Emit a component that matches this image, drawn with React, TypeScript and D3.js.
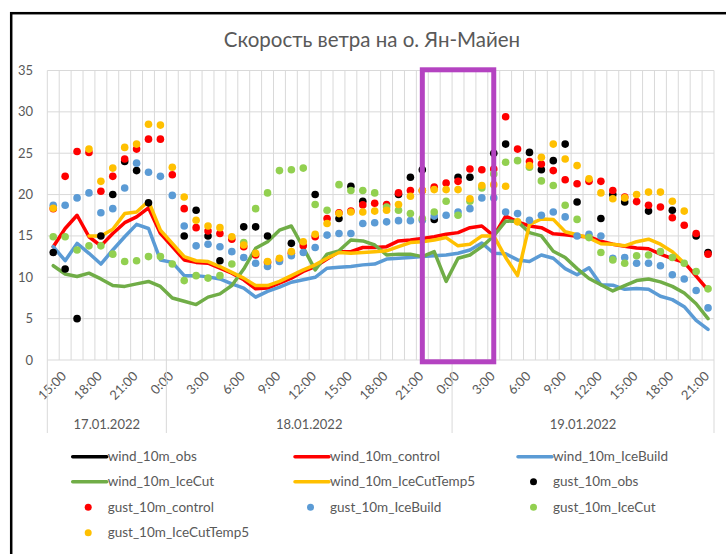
import React, { useRef, useEffect } from 'react';
import * as d3 from 'd3';

// hours per day on the category axis
const day17Hours = [14, 15, 16, 17, 18, 19, 20, 21, 22, 23];
const day18Hours = [0, 1, 2, 3, 4, 5, 6, 7, 8, 9, 10, 11, 12, 13, 14, 15, 16, 17, 18, 19, 20, 21, 22, 23];
const day19Hours = [0, 1, 2, 3, 4, 5, 6, 7, 8, 9, 10, 11, 12, 13, 14, 15, 16, 17, 18, 19, 20, 21];
const dayLabels = ['17.01.2022', '18.01.2022', '19.01.2022'];

const yTicks = [0, 5, 10, 15, 20, 25, 30, 35];

const windObs: (number | null)[] = [];
const windControl = [13.7, 15.9, 17.5, 14.9, 13.8, 15.3, 16.6, 17.3, 18.4, 15.3,
  13.7, 12.1, 11.8, 11.7, 11.1, 10.5, 9.7, 8.6, 8.7, 9.3,
  9.9, 10.7, 11.3, 12.2, 13.1, 13.1, 13.6, 13.6, 13.7, 14.4,
  14.5, 14.7, 14.9, 15.2, 15.4, 16.0, 16.2, 15.0, 17.4, 16.7,
  16.2, 16.0, 15.25, 15.15, 14.95, 14.9, 14.35, 14.0, 13.75, 13.55,
  13.45, 12.8, 12.25, 11.8, 10.15, 8.45];
const windIceBuild = [13.7, 12.0, 14.1, 12.9, 11.6, 13.3, 14.9, 16.4, 15.9, 12.1,
  11.8, 10.2, 10.2, 10.05, 9.8, 9.2, 8.7, 7.6, 8.3, 8.8,
  9.4, 9.7, 10.0, 11.1, 11.2, 11.3, 11.5, 11.6, 12.2, 12.3,
  12.4, 12.5, 12.6, 12.7, 12.9, 13.3, 14.15, 12.9, 12.85, 12.1,
  11.9, 12.7, 12.3, 11.05, 10.3, 11.15, 9.1, 9.05, 8.55, 8.65,
  8.55, 7.7, 7.3, 6.45, 4.8, 3.7];
const windIceCut = [11.4, 10.4, 10.1, 10.5, 9.8, 9.0, 8.9, 9.2, 9.5, 8.9,
  7.5, 7.1, 6.7, 7.6, 8.0, 9.0, 11.0, 13.5, 14.3, 15.7,
  16.2, 13.6, 10.9, 12.8, 13.2, 14.5, 14.4, 13.9, 12.7, 12.8,
  12.8, 12.5, 13.1, 9.5, 12.3, 12.7, 13.7, 15.0, 16.8, 16.75,
  15.4, 15.0, 13.15, 12.4, 11.05, 9.85, 9.1, 8.35, 9.0, 9.6,
  9.8, 9.45, 8.9, 8.1, 6.8, 5.0];
const windIceCutTemp5 = [null, null, null, 15.0, 15.0, 15.8, 17.7, 17.9, 19.2, 15.7,
  14.1, 12.5, 12.0, 11.9, 11.3, 10.6, 9.9, 9.0, 9.0, 9.5,
  10.2, 10.9, 11.5, 12.3, 13.0, 12.9, 13.0, 13.1, 13.2, 13.7,
  14.2, 14.3, 14.5, 14.8, 13.8, 14.0, 15.0, 15.0, 12.4, 10.2,
  16.4, 17.05, 17.0, 15.5, 15.15, 14.75, 14.05, 14.0, 13.8, 14.3,
  14.6, 14.0, 13.1, 11.7, null, null];

const gustObs = [13.0, 11.0, 5.0, null, 15.0, 20.0, 24.0, 22.9, 19.0, null,
  null, 15.0, 18.1, 15.0, 12.0, null, 16.1, 16.1, 15.0, null,
  14.1, null, 20.0, null, 17.1, 21.0, 19.2, null, null, 20.0,
  22.1, 23.0, 17.0, null, 22.1, 22.1, null, 25.0, 26.1, null,
  25.1, 23.0, 24.1, 26.1, 19.1, null, 17.1, 20.0, 19.1, null,
  18.0, null, 18.1, null, 15.0, 13.0];
const gustControl = [18.3, 22.2, 25.2, 25.1, 20.4, 22.2, 24.3, 25.5, 26.7, 26.7,
  22.4, 18.3, 16.0, 15.6, 15.3, 14.6, 13.7, 12.7, 11.8, 12.1,
  12.9, 13.8, 14.9, 17.1, 17.8, 18.0, 18.75, 18.95, 18.8, 20.2,
  20.5, 20.5, 20.9, 21.4, 21.6, 23.1, 23.0, 23.1, 29.4, 25.5,
  24.0, 23.7, 22.9, 21.8, 21.3, 21.6, 21.6, 20.5, 19.7, 19.15,
  18.7, 18.5, 17.2, 16.3, 15.3, 12.8];
const gustIceBuild = [18.7, 18.7, 19.6, 20.2, 17.8, 18.3, 20.8, 23.8, 22.7, 22.2,
  19.9, 16.2, 13.8, 14.0, 13.7, 13.1, 12.4, 11.7, 11.3, 11.9,
  12.6, 13.0, 13.6, 15.1, 15.3, 15.3, 16.5, 16.6, 16.7, 16.85,
  16.85, 16.9, 17.4, 17.5, 17.9, 18.3, 19.6, 19.6, 17.9, 17.7,
  16.9, 17.5, 17.9, 17.3, 15.0, 15.2, 15.0, 12.3, 12.4, 11.7,
  11.7, 11.4, 10.3, 9.8, 8.4, 6.3];
const gustIceCut = [14.9, 14.9, 13.3, 13.8, 13.8, 12.8, 11.9, 12.0, 12.5, 12.5,
  11.6, 9.6, 10.2, 9.9, 10.2, 11.6, 14.2, 18.3, 20.2, 22.9,
  23.0, 23.2, 18.8, 18.1, 21.2, 20.5, 20.5, 20.2, 18.5, 18.1,
  17.7, 17.1, 17.9, 19.2, 17.5, 19.2, 20.8, 22.5, 23.9, 24.1,
  23.3, 21.65, 21.1, 18.7, 17.0, 14.8, 13.0, 12.1, 11.7, 12.6,
  12.7, 13.1, 12.4, 11.7, 10.7, 8.6];
const gustIceCutTemp5 = [18.35, null, null, 25.5, 21.6, 23.2, 25.7, 26.1, 28.5, 28.4,
  23.3, 19.7, 16.9, 16.2, 16.0, 14.9, 13.9, 12.9, 11.9, 12.3,
  13.1, 14.3, 15.2, 16.5, 17.7, 17.9, 17.9, 18.0, 18.1, 18.8,
  19.8, 20.5, 20.6, 20.6, 20.6, 19.5, 21.1, 21.2, 21.0, 16.7,
  23.5, 24.5, 26.1, 24.3, 23.5, 21.9, 20.2, 19.5, 19.6, 20.0,
  20.3, 20.3, 19.2, 18.0, null, null];

// highlighted window (from / to category keys)
const highlightFrom = '18.01.2022 21:00';
const highlightTo = '19.01.2022 3:00';

const title = 'Скорость ветра на о. Ян-Майен';

type Series = { name: string; color: string; values: (number | null)[]; kind: 'line' | 'dot' };

const lineSeries: Series[] = [
  { name: 'wind_10m_obs', color: '#000000', values: windObs, kind: 'line' },
  { name: 'wind_10m_control', color: '#FF0000', values: windControl, kind: 'line' },
  { name: 'wind_10m_IceBuild', color: '#5B9BD5', values: windIceBuild, kind: 'line' },
  { name: 'wind_10m_IceCut', color: '#70AD47', values: windIceCut, kind: 'line' },
  { name: 'wind_10m_IceCutTemp5', color: '#FFC000', values: windIceCutTemp5, kind: 'line' },
];
const dotSeries: Series[] = [
  { name: 'gust_10m_obs', color: '#000000', values: gustObs, kind: 'dot' },
  { name: 'gust_10m_control', color: '#FF0000', values: gustControl, kind: 'dot' },
  { name: 'gust_10m_IceBuild', color: '#5B9BD5', values: gustIceBuild, kind: 'dot' },
  { name: 'gust_10m_IceCut', color: '#92D050', values: gustIceCut, kind: 'dot' },
  { name: 'gust_10m_IceCutTemp5', color: '#FFC000', values: gustIceCutTemp5, kind: 'dot' },
];

const FONT = 'Lato, "Open Sans", sans-serif';
const TEXT = '#595959';
const GRID = '#d9d9d9';

export default function App() {
  const svgRef = useRef<SVGSVGElement>(null);

  useEffect(() => {
    if (!svgRef.current) return;
    const width = 726;
    const height = 554;
    const plot = { left: 47.3, right: 714, top: 70.5, bottom: 360 };

    const days = [
      { date: dayLabels[0], hours: day17Hours },
      { date: dayLabels[1], hours: day18Hours },
      { date: dayLabels[2], hours: day19Hours },
    ];
    const cats = days.flatMap(d => d.hours.map(h => ({ key: `${d.date} ${h}:00`, hour: h, date: d.date })));

    const svg = d3.select(svgRef.current);
    svg.selectAll('*').remove();
    svg.attr('width', width).attr('height', height);

    svg.append('rect').attr('width', width).attr('height', height).attr('fill', '#fff');
    // chart frame (runs off the right / bottom edge)
    svg.append('rect')
      .attr('x', 11.2).attr('y', 13.2)
      .attr('width', width + 20).attr('height', height + 20)
      .attr('fill', 'none').attr('stroke', '#000').attr('stroke-width', 2.5);

    const x = d3.scaleBand<string>()
      .domain(cats.map(c => c.key))
      .range([plot.left, plot.right])
      .paddingInner(0).paddingOuter(0);
    const bw = x.bandwidth();
    const cx = (k: string) => x(k)! + bw / 2;

    const y = d3.scaleLinear().domain([0, 35]).range([plot.bottom, plot.top]);

    // title
    svg.append('text')
      .attr('x', 372).attr('y', 47)
      .attr('text-anchor', 'middle')
      .style('font-family', FONT).style('font-size', '20.5px').style('fill', TEXT)
      .text(title);

    // grid
    const grid = svg.append('g');
    grid.selectAll('line.h')
      .data(yTicks)
      .join('line')
      .attr('class', 'h')
      .attr('x1', plot.left).attr('x2', plot.right)
      .attr('y1', d => y(d)).attr('y2', d => y(d))
      .attr('stroke', GRID).attr('stroke-width', 1);
    grid.selectAll('line.v')
      .data(cats.map(c => c.key).concat(['__end']))
      .join('line')
      .attr('class', 'v')
      .attr('x1', (d, i) => plot.left + i * bw).attr('x2', (d, i) => plot.left + i * bw)
      .attr('y1', plot.top).attr('y2', plot.bottom)
      .attr('stroke', GRID).attr('stroke-width', 1);

    // y axis labels
    svg.append('g').selectAll('text')
      .data(yTicks)
      .join('text')
      .attr('x', 33).attr('y', d => y(d) + 4.5)
      .attr('text-anchor', 'end')
      .style('font-family', FONT).style('font-size', '13px').style('fill', TEXT)
      .text(d => d);

    // x axis: hour labels
    svg.append('g').selectAll('text')
      .data(cats.filter(c => c.hour % 3 === 0))
      .join('text')
      .attr('transform', d => `translate(${cx(d.key) + 2},${377}) rotate(-45)`)
      .attr('text-anchor', 'end')
      .style('font-family', FONT).style('font-size', '13px').style('fill', TEXT)
      .text(d => `${d.hour}:00`);

    // x axis: day groups
    const dayG = svg.append('g');
    let start = 0;
    const bounds: number[] = [plot.left];
    days.forEach(d => {
      const x0 = plot.left + start * bw;
      const x1 = plot.left + (start + d.hours.length) * bw;
      bounds.push(x1);
      dayG.append('text')
        .attr('x', (x0 + x1) / 2).attr('y', 429)
        .attr('text-anchor', 'middle')
        .style('font-family', FONT).style('font-size', '13px').style('fill', TEXT)
        .text(d.date);
      start += d.hours.length;
    });
    dayG.selectAll('line')
      .data(bounds)
      .join('line')
      .attr('x1', d => d).attr('x2', d => d)
      .attr('y1', plot.bottom).attr('y2', 433)
      .attr('stroke', GRID).attr('stroke-width', 1);

    // wind lines
    const line = d3.line<number | null>()
      .defined(d => d != null)
      .x((d, i) => cx(cats[i].key))
      .y(d => y(d as number));
    svg.append('g').selectAll('path')
      .data(lineSeries)
      .join('path')
      .attr('d', s => line(s.values) || '')
      .attr('fill', 'none')
      .attr('stroke', s => s.color)
      .attr('stroke-width', 3.5)
      .attr('stroke-linejoin', 'round')
      .attr('stroke-linecap', 'round');

    // gust dots
    dotSeries.forEach(s => {
      svg.append('g').selectAll('circle')
        .data(s.values.map((v, i) => ({ v, key: cats[i].key })).filter(d => d.v != null))
        .join('circle')
        .attr('cx', d => cx(d.key))
        .attr('cy', d => y(d.v as number))
        .attr('r', 3.8)
        .attr('fill', s.color);
    });

    // highlight box
    svg.append('rect')
      .attr('x', cx(highlightFrom)).attr('y', y(35) - 0.7)
      .attr('width', cx(highlightTo) - cx(highlightFrom))
      .attr('height', y(0) - y(35) + 2.5)
      .attr('fill', 'none').attr('stroke', '#B443C1').attr('stroke-width', 5);

    // legend
    const legendItems = [...lineSeries, ...dotSeries];
    const colX = [107.7, 330, 553];
    const rowY = [456.7, 481.7, 507.3, 532.7];
    const lg = svg.append('g');
    legendItems.forEach((s, i) => {
      const tx = colX[i % 3];
      const ty = rowY[Math.floor(i / 3)];
      if (s.kind === 'line') {
        lg.append('line')
          .attr('x1', tx - 35).attr('x2', tx - 1)
          .attr('y1', ty).attr('y2', ty)
          .attr('stroke', s.color).attr('stroke-width', 3.5)
          .attr('stroke-linecap', 'round');
      } else {
        lg.append('circle').attr('cx', tx - 19.5).attr('cy', ty).attr('r', 3.5).attr('fill', s.color);
      }
      lg.append('text')
        .attr('x', tx).attr('y', ty + 4.5)
        .style('font-family', FONT).style('font-size', '13.5px').style('fill', TEXT)
        .text(s.name);
    });
  }, []);

  return (
    <div style={{ position: 'absolute', left: 0, top: 0 }}>
      <svg ref={svgRef} style={{ display: 'block' }} />
    </div>
  );
}
